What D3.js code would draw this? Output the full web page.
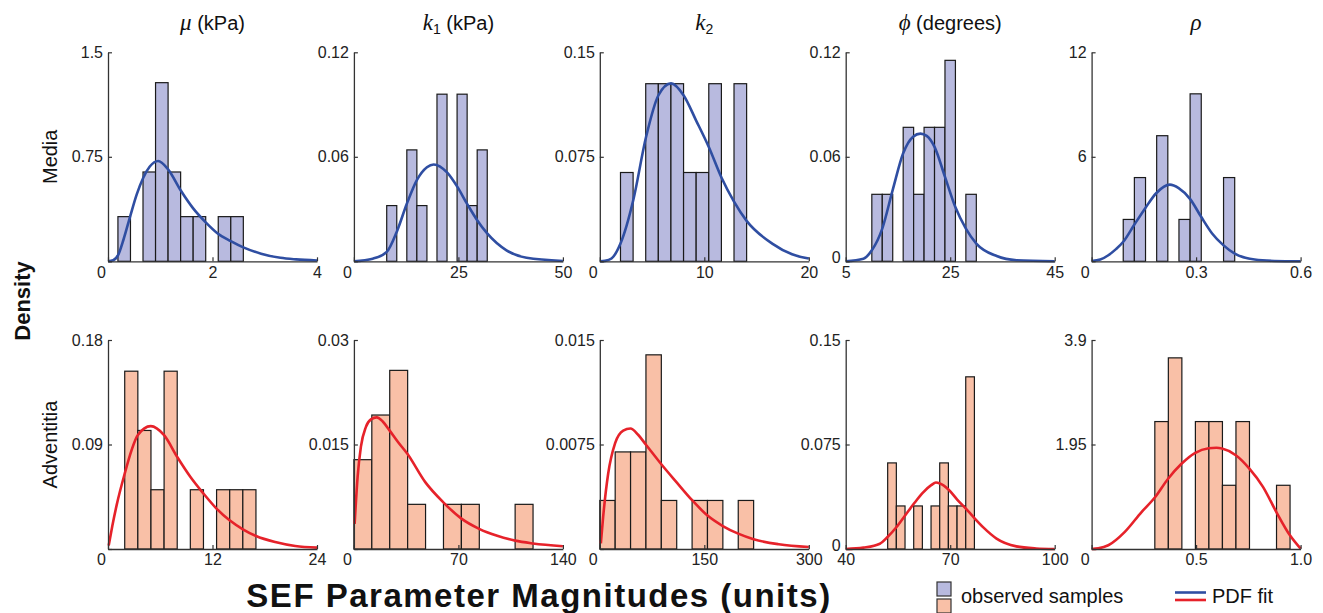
<!DOCTYPE html>
<html>
<head>
<meta charset="utf-8">
<script src="https://cdn.jsdelivr.net/npm/d3@7"></script>
<style>
body { margin: 0; background: #fff; }
svg { font-family: "Liberation Sans", Arial, sans-serif; }
</style>
</head>
<body>
<div id="vis"></div>
<script>
// overall size
const width = 1323;
const height = 613;
const sampleSize = 13;

// column headings
const paramNames = ['μ', 'k', 'k', 'ϕ', 'ρ'];
const paramSubs = ['', '1', '2', '', ''];
const paramUnits = [' (kPa)', ' (kPa)', '', ' (degrees)', ''];
const rowNames = ['Media', 'Adventitia'];

// Media row axes
const mediaXDomain = [[0, 4], [0, 50], [0, 20], [5, 45], [0, 0.6]];
const mediaXTicks = [[0, 2, 4], [0, 25, 50], [0, 10, 20], [5, 25, 45], [0, 0.3, 0.6]];
const mediaXLabels = [['0', '2', '4'], ['0', '25', '50'], ['0', '10', '20'], ['5', '25', '45'], ['0', '0.3', '0.6']];
const mediaYMax = [1.5, 0.12, 0.15, 0.12, 12];
const mediaYLabels = [['0', '0.75', '1.5'], ['0', '0.06', '0.12'], ['0', '0.075', '0.15'], ['0', '0.06', '0.12'], ['0', '6', '12']];

// Adventitia row axes
const advXDomain = [[0, 24], [0, 140], [0, 300], [40, 100], [0, 1]];
const advXTicks = [[0, 12, 24], [0, 70, 140], [0, 150, 300], [40, 70, 100], [0, 0.5, 1]];
const advXLabels = [['0', '12', '24'], ['0', '70', '140'], ['0', '150', '300'], ['40', '70', '100'], ['0', '0.5', '1.0']];
const advYMax = [0.18, 0.03, 0.015, 0.15, 3.9];
const advYLabels = [['0', '0.09', '0.18'], ['0', '0.015', '0.03'], ['0', '0.0075', '0.015'], ['0', '0.075', '0.15'], ['0', '1.95', '3.9']];

// histogram bins (first edge, bin width, counts)
const mediaBinStart = [0.19, 7.85, 1.98, 10, 0.0908];
const mediaBinWidth = [0.24, 2.405, 1.207, 2, 0.032];
const mediaCounts = [
    [1, 0, 2, 4, 2, 1, 1, 0, 1, 1],
    [1, 0, 2, 1, 0, 3, 0, 3, 1, 2],
    [1, 0, 2, 2, 2, 1, 1, 2, 0, 2],
    [1, 1, 0, 2, 1, 2, 2, 3, 0, 1],
    [1, 2, 0, 3, 0, 1, 4, 0, 0, 2]
];
const advBinStart = [1.92, 0, 0, 52.05, 0.3025];
const advBinWidth = [1.507, 12, 22.08, 2.49, 0.0647];
const advCounts = [
    [3, 2, 1, 3, 0, 1, 0, 1, 1, 1],
    [2, 3, 4, 1, 0, 1, 1, 0, 0, 1],
    [1, 2, 2, 4, 1, 0, 1, 1, 0, 1],
    [2, 1, 0, 1, 0, 1, 2, 1, 1, 4],
    [2, 3, 0, 2, 2, 1, 2, 0, 0, 1]
];

// PDF fit curves [x, density]
const mediaFit = [
    [[0, 0], [0.1, 0.008], [0.2, 0.05], [0.3, 0.16], [0.43, 0.33], [0.55, 0.48], [0.675, 0.6], [0.8, 0.68], [0.96, 0.72], [1.15, 0.66], [1.39, 0.51], [1.63, 0.38], [1.87, 0.28], [2.1, 0.2], [2.35, 0.145], [2.59, 0.1], [2.93, 0.055], [3.3, 0.025], [3.6, 0.014], [4.0, 0.006]],
    [[0, 0], [4.5, 0.0015], [7.85, 0.0054], [10.26, 0.017], [12.66, 0.033], [15.06, 0.0466], [17.47, 0.054], [19.1, 0.0556], [22.28, 0.051], [24.68, 0.043], [27.08, 0.033], [29.49, 0.0236], [31.89, 0.016], [36.5, 0.0063], [41.3, 0.002], [50, 0.0002]],
    [[0, 0], [0.5, 0.0003], [1.12, 0.002], [1.98, 0.0127], [3.2, 0.0438], [4.42, 0.089], [5.6, 0.119], [6.82, 0.1277], [8.03, 0.119], [9.22, 0.101], [10.43, 0.082], [11.65, 0.06], [12.83, 0.043], [14.05, 0.029], [16.5, 0.0127], [18.4, 0.005], [20, 0.002]],
    [[5, 0], [8.4, 0.0015], [10, 0.0063], [12, 0.0188], [14, 0.041], [16, 0.062], [17.9, 0.0715], [19.3, 0.0733], [20.5, 0.072], [22, 0.0657], [24, 0.0485], [26, 0.031], [28, 0.0188], [30, 0.0102], [33.9, 0.003], [37.7, 0.0006], [45, 0]],
    [[0, 0.02], [0.025, 0.1], [0.048, 0.35], [0.07, 0.7], [0.091, 1.12], [0.122, 2.08], [0.154, 3.05], [0.186, 3.92], [0.2245, 4.4], [0.25, 4.2], [0.283, 3.57], [0.314, 2.57], [0.346, 1.6], [0.378, 0.93], [0.411, 0.44], [0.468, 0.1], [0.525, 0.02], [0.6, 0]]
];
const advFit = [
    [[0.08, 0.003], [0.5, 0.02], [1.0, 0.038], [1.92, 0.065], [2.7, 0.085], [3.41, 0.098], [4.91, 0.1058], [6.44, 0.098], [7.97, 0.079], [9.47, 0.062], [10.97, 0.0477], [12.46, 0.0348], [13.96, 0.0247], [15.49, 0.017], [17, 0.0112], [19.2, 0.006], [21.5, 0.0026], [24, 0.0012]],
    [[0.5, 0.0036], [2.5, 0.0104], [4.7, 0.0147], [8, 0.0175], [11.4, 0.0186], [15.3, 0.0189], [19.3, 0.0183], [23.6, 0.0171], [29.4, 0.0154], [35.7, 0.0137], [47.8, 0.0096], [59.9, 0.0067], [71.8, 0.0044], [83.9, 0.0029], [96, 0.0019], [108, 0.0012], [120, 0.0008], [140, 0.0004]],
    [[1.5, 0.0004], [4.8, 0.0023], [12, 0.0054], [22, 0.0076], [33.6, 0.0085], [44, 0.00865], [55, 0.0082], [66, 0.0075], [88, 0.0061], [110, 0.0048], [132.5, 0.0035], [154.6, 0.0024], [176.6, 0.00165], [198.7, 0.0011], [220.8, 0.0007], [257, 0.00034], [300, 0.00014]],
    [[40, 0], [45.1, 0.001], [49.8, 0.0038], [52, 0.0086], [54.6, 0.0158], [57.1, 0.0242], [59.6, 0.0326], [62.1, 0.0403], [64.55, 0.0458], [65.9, 0.0477], [67.04, 0.047], [69.5, 0.0427], [72, 0.0355], [74.5, 0.029], [77, 0.022], [79.5, 0.0155], [83.3, 0.0075], [89, 0.0019], [94.7, 0.0004], [100, 0]],
    [[0, 0], [0.032, 0.012], [0.08, 0.07], [0.159, 0.32], [0.239, 0.69], [0.3025, 0.96], [0.366, 1.31], [0.43, 1.59], [0.494, 1.79], [0.56, 1.88], [0.597, 1.888], [0.624, 1.875], [0.69, 1.75], [0.755, 1.5], [0.82, 1.16], [0.884, 0.69], [0.949, 0.255], [1, 0.006]]
];

// panel layout
const panelLeft = 108;
const panelStep = 245.9;
const panelW = 209;
const panelH = 209;
const rowTop = [52.3, 340];

// colours per row
const barFill = ['#b8badf', '#f9c0a7'];
const lineColour = ['#2f4ea2', '#e6222a'];

let svg = d3.select('#vis')
    .append('svg')
    .attr('width', width)
    .attr('height', height);

const rows = [
    { xDomain: mediaXDomain, xTicks: mediaXTicks, xLabels: mediaXLabels, yMax: mediaYMax, yLabels: mediaYLabels,
      binStart: mediaBinStart, binWidth: mediaBinWidth, counts: mediaCounts, fit: mediaFit },
    { xDomain: advXDomain, xTicks: advXTicks, xLabels: advXLabels, yMax: advYMax, yLabels: advYLabels,
      binStart: advBinStart, binWidth: advBinWidth, counts: advCounts, fit: advFit }
];

rows.forEach((row, r) => {
    for (let c = 0; c < 5; c++) {
        const x0 = panelLeft + c * panelStep;
        const y0 = rowTop[r];

        let xScale = d3.scaleLinear()
            .domain(row.xDomain[c])
            .range([x0, x0 + panelW]);
        let yScale = d3.scaleLinear()
            .domain([0, row.yMax[c]])
            .range([y0 + panelH, y0]);

        let g = svg.append('g');

        // histogram bars (density)
        const bins = row.counts[c].map((n, i) => ({
            lo: row.binStart[c] + i * row.binWidth[c],
            hi: row.binStart[c] + (i + 1) * row.binWidth[c],
            dens: n / (sampleSize * row.binWidth[c])
        })).filter(d => d.dens > 0);

        g.selectAll('rect')
            .data(bins)
            .join('rect')
            .attr('x', d => xScale(d.lo))
            .attr('width', d => xScale(d.hi) - xScale(d.lo))
            .attr('y', d => yScale(d.dens))
            .attr('height', d => yScale(0) - yScale(d.dens))
            .attr('fill', barFill[r])
            .attr('stroke', '#1a1a1a')
            .attr('stroke-width', 1.2);

        // fitted pdf
        let line = d3.line()
            .x(d => xScale(d[0]))
            .y(d => yScale(d[1]))
            .curve(d3.curveMonotoneX);

        g.append('path')
            .datum(row.fit[c])
            .attr('d', line)
            .attr('fill', 'none')
            .attr('stroke', lineColour[r])
            .attr('stroke-width', 2.6);

        // axes
        const yVals = [0, row.yMax[c] / 2, row.yMax[c]];
        let yAxis = d3.axisLeft(yScale)
            .tickValues(yVals)
            .tickFormat((d, i) => row.yLabels[c][i])
            .tickSizeInner(-4)
            .tickSizeOuter(0)
            .tickPadding(5);
        let xAxis = d3.axisBottom(xScale)
            .tickValues(row.xTicks[c])
            .tickFormat((d, i) => row.xLabels[c][i])
            .tickSizeInner(-4)
            .tickSizeOuter(0)
            .tickPadding(5);

        let gy = g.append('g')
            .attr('transform', `translate(${x0},0)`)
            .call(yAxis);
        let gx = g.append('g')
            .attr('transform', `translate(0,${y0 + panelH})`)
            .call(xAxis);

        [gx, gy].forEach(a => {
            a.select('.domain').attr('stroke', '#333').attr('stroke-width', 1.3);
            a.selectAll('.tick line').attr('stroke', '#333').attr('stroke-width', 1.2);
            a.selectAll('.tick text')
                .attr('font-family', '"Liberation Sans", Arial, sans-serif')
                .attr('font-size', 16)
                .attr('fill', '#222');
        });

        // shared origin label when x starts at 0, otherwise lift the y zero a touch
        if (row.xDomain[c][0] === 0) {
            gy.selectAll('.tick text').filter((d, i) => i === 0).remove();
            gx.selectAll('.tick text').filter((d, i) => i === 0).attr('dx', -7);
        } else {
            gy.selectAll('.tick text').filter((d, i) => i === 0).attr('dy', '0.1em');
        }

        // column headings
        if (r === 0) {
            let t = svg.append('text')
                .attr('x', x0 + panelW / 2)
                .attr('y', 30)
                .attr('text-anchor', 'middle')
                .attr('font-size', 20)
                .attr('fill', '#111');
            t.append('tspan')
                .attr('font-family', '"Liberation Serif", "DejaVu Serif", serif')
                .attr('font-style', 'italic')
                .attr('font-size', 23)
                .text(paramNames[c]);
            if (paramSubs[c]) {
                t.append('tspan')
                    .attr('font-size', 14)
                    .attr('dy', 4)
                    .text(paramSubs[c]);
            }
            if (paramUnits[c]) {
                t.append('tspan')
                    .attr('dy', paramSubs[c] ? -4 : 0)
                    .text(paramUnits[c]);
            }
        }
    }

    // row labels
    svg.append('text')
        .attr('transform', `translate(57,${rowTop[r] + panelH / 2}) rotate(-90)`)
        .attr('text-anchor', 'middle')
        .attr('font-size', 20)
        .attr('fill', '#111')
        .text(rowNames[r]);
});

// shared axis titles
svg.append('text')
    .attr('transform', 'translate(30,301) rotate(-90)')
    .attr('text-anchor', 'middle')
    .attr('font-size', 22)
    .attr('font-weight', 'bold')
    .attr('fill', '#111')
    .text('Density');

svg.append('text')
    .attr('x', 539)
    .attr('y', 607)
    .attr('text-anchor', 'middle')
    .attr('font-size', 33)
    .attr('font-weight', 'bold')
    .attr('letter-spacing', 1.5)
    .attr('fill', '#111')
    .text('SEF Parameter Magnitudes (units)');

// legend
let legend = svg.append('g');
legend.selectAll('rect')
    .data(barFill)
    .join('rect')
    .attr('x', 937)
    .attr('y', (d, i) => 582 + i * 17)
    .attr('width', 14)
    .attr('height', 14)
    .attr('fill', d => d)
    .attr('stroke', '#333')
    .attr('stroke-width', 1.2);
legend.append('text')
    .attr('x', 961)
    .attr('y', 603)
    .attr('font-size', 20)
    .attr('fill', '#111')
    .text('observed samples');
legend.selectAll('line')
    .data(lineColour)
    .join('line')
    .attr('x1', 1175)
    .attr('x2', 1206)
    .attr('y1', (d, i) => 592.5 + i * 7.5)
    .attr('y2', (d, i) => 592.5 + i * 7.5)
    .attr('stroke', d => d)
    .attr('stroke-width', 2.6);
legend.append('text')
    .attr('x', 1212)
    .attr('y', 603)
    .attr('font-size', 20)
    .attr('fill', '#111')
    .text('PDF fit');
</script>
</body>
</html>
